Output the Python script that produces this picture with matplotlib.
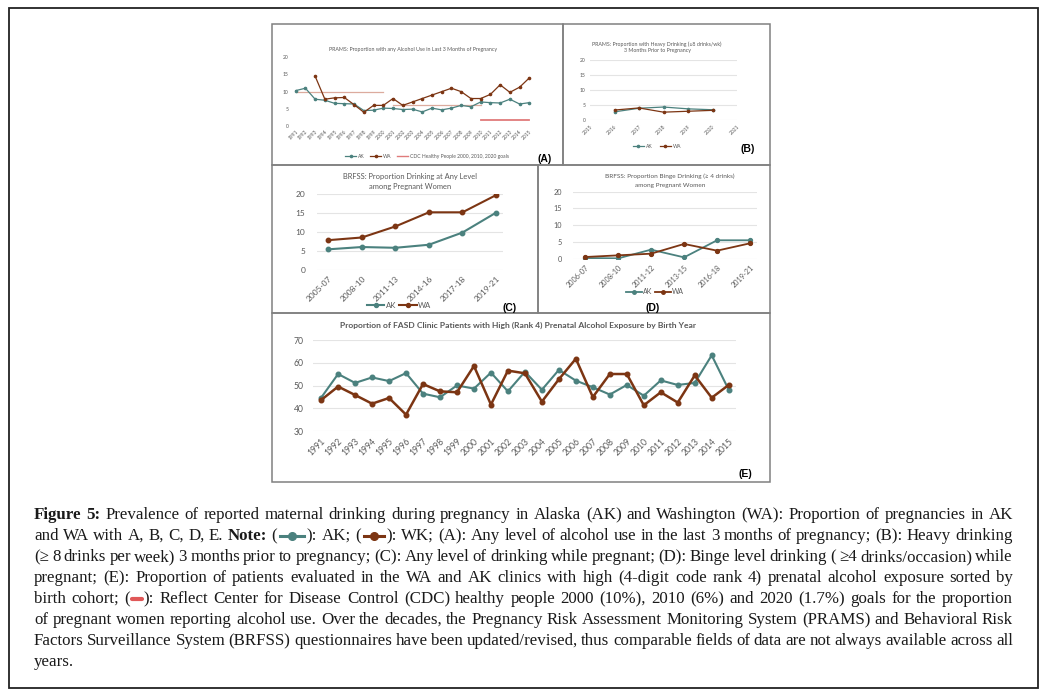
#!/usr/bin/env python3
"""Figure 5: maternal drinking during pregnancy in AK and WA, five panels plus caption."""

import re
import matplotlib
matplotlib.use('Agg')
import matplotlib.pyplot as plt
from matplotlib.lines import Line2D
from matplotlib.patches import Rectangle

W, H = 1044, 694
AK_C = '#4b817e'
WA_C = '#7c3513'
GOAL_C = '#dcab9e'
GOAL20_C = '#e07b7b'
TXT_C = '#595959'
GRID_C = '#e4e4e4'
SERIF = ['Liberation Serif', 'DejaVu Serif']

# (A) PRAMS: any alcohol use in last 3 months of pregnancy
a_years = list(range(1991, 2016))
a_ak = [10.3, 11.0, 7.8, 7.5, 6.6, 6.5, 6.4, 4.5, 4.6, 5.2, 5.1, 4.8, 4.9,
        4.1, 5.2, 4.7, 5.2, 6.0, 5.6, 7.0, 6.8, 6.7, 7.8, 6.4, 6.8]
a_wa_years = list(range(1993, 2016))
a_wa = [14.5, 7.8, 8.2, 8.3, 6.2, 4.0, 6.0, 6.0, 8.0, 6.0, 7.0, 8.0, 9.0,
        10.0, 11.0, 10.0, 8.0, 8.0, 9.2, 12.0, 9.8, 11.3, 14.0]
goal_spans = [(1991, 2000), (2001, 2010), (2010, 2015)]
goal_vals = [10, 6, 1.7]

# (B) PRAMS: heavy drinking 3 months prior to pregnancy
b_years = [2016, 2017, 2018, 2019, 2020]
b_ak = [2.8, 4.0, 4.4, 3.8, 3.5]
b_wa = [3.4, 4.1, 2.7, 3.0, 3.3]
b_ticks = list(range(2015, 2022))

# (C) BRFSS: drinking at any level among pregnant women
c_periods = ['2005-07', '2008-10', '2011-13', '2014-16', '2017-18', '2019-21']
c_ak = [5.5, 6.1, 5.9, 6.7, 9.9, 15.1]
c_wa = [7.9, 8.6, 11.5, 15.2, 15.2, 19.7]

# (D) BRFSS: binge drinking among pregnant women
d_periods = ['2006-07', '2008-10', '2011-12', '2013-15', '2016-18', '2019-21']
d_ak = [0.2, 0.1, 2.7, 0.4, 5.5, 5.5]
d_wa = [0.5, 1.0, 1.5, 4.4, 2.4, 4.6]

# (E) FASD clinic patients with rank 4 exposure, by birth year
e_years = list(range(1991, 2016))
e_ak = [44.7, 55.1, 51.2, 53.6, 52.0, 55.5, 46.5, 44.9, 50.1, 48.7, 55.7,
        47.5, 56.1, 48.2, 56.9, 52.2, 49.3, 46.1, 50.3, 45.6, 52.3, 50.3,
        51.2, 63.3, 48.2]
e_wa = [43.7, 49.6, 45.9, 42.1, 44.6, 37.3, 50.7, 47.5, 47.1, 58.6, 41.7,
        56.6, 55.4, 43.0, 52.8, 61.8, 45.0, 55.1, 55.1, 41.4, 47.1, 42.6,
        54.5, 44.7, 50.3]

caption = [
    "*Figure *5: Prevalence of reported maternal drinking during pregnancy in Alaska (AK) and Washington (WA): Proportion of pregnancies in AK",
    "and WA with A, B, C, D, E. *Note: ([AK]): AK; ([WA]): WK; (A): Any level of alcohol use in the last 3 months of pregnancy; (B): Heavy drinking",
    "(\u2265 8 drinks per week) 3 months prior to pregnancy; (C): Any level of drinking while pregnant; (D): Binge level drinking ( \u22654 drinks/occasion) while",
    "pregnant; (E): Proportion of patients evaluated in the WA and AK clinics with high (4-digit code rank 4) prenatal alcohol exposure sorted by",
    "birth cohort; ([CDC]): Reflect Center for Disease Control (CDC) healthy people 2000 (10%), 2010 (6%) and 2020 (1.7%) goals for the proportion",
    "of pregnant women reporting alcohol use. Over the decades, the Pregnancy Risk Assessment Monitoring System (PRAMS) and Behavioral Risk",
    "Factors Surveillance System (BRFSS) questionnaires have been updated/revised, thus comparable fields of data are not always available across all",
    "years.",
]

plt.rcParams['font.family'] = ['Lato', 'DejaVu Sans']
fig = plt.figure(figsize=(W / 100, H / 100), dpi=100)


def fx(x):
    return x / W


def fy(y):
    return 1 - y / H


def px_axes(l, t, r, b):
    return fig.add_axes([fx(l), fy(b), (r - l) / W, (b - t) / H])


def style(ax, fs, ypad, xpad, grid=True):
    for s in ax.spines.values():
        s.set_visible(False)
    ax.tick_params(length=0, labelsize=fs, colors=TXT_C)
    ax.tick_params(axis='y', pad=ypad)
    ax.tick_params(axis='x', pad=xpad)
    if grid:
        ax.grid(axis='y', color=GRID_C, lw=0.8)
        ax.set_axisbelow(True)
    ax.set_facecolor('none')


def legend(handles, labels, x, y, fs, **kw):
    fig.legend(handles, labels, loc='center', bbox_to_anchor=(fx(x), fy(y)),
               ncol=len(labels), frameon=False, fontsize=fs,
               labelcolor=TXT_C, borderpad=0, **kw)


def ftext(x, y, s, **kw):
    fig.text(fx(x), fy(y), s, ha='center', va='center', **kw)


# ---- (A)
axA = px_axes(290.8, 57.3, 534.2, 126)
lak, = axA.plot(a_years, a_ak, color=AK_C, lw=0.9, marker='o', ms=1.6)
lwa, = axA.plot(a_wa_years, a_wa, color=WA_C, lw=0.9, marker='o', ms=1.6)
for (xa, xb), v in zip(goal_spans, goal_vals):
    axA.plot([xa, xb], [v, v], color=GOAL20_C if v < 2 else GOAL_C,
             lw=1.3 if v < 2 else 0.9, zorder=1)
axA.set_xlim(1990.5, 2015.5)
axA.set_ylim(0, 20)
axA.set_yticks([0, 5, 10, 15, 20])
axA.set_xticks(a_years, [str(y) for y in a_years], rotation=45, ha='right',
               rotation_mode='anchor')
style(axA, 3.6, 1.5, 2, grid=False)
ftext(413, 50, 'PRAMS: Proportion with any Alcohol Use in Last 3 Months of Pregnancy',
      fontsize=3.8, color=TXT_C)
legend([lak, lwa, Line2D([], [], color=GOAL20_C, lw=1)],
       ['AK', 'WA', 'CDC Healthy People 2000, 2010, 2020 goals'], 427, 156.7, 3.6,
       handlelength=2.2, columnspacing=1.0, handletextpad=0.4)
ftext(545, 159, '(A)', fontsize=7.5, fontweight='bold', family='Liberation Sans')

# ---- (B)
axB = px_axes(590, 60, 737, 120.3)
lak, = axB.plot(b_years, b_ak, color=AK_C, lw=0.9, marker='o', ms=1.6)
lwa, = axB.plot(b_years, b_wa, color=WA_C, lw=0.9, marker='o', ms=1.6)
axB.set_xlim(2015, 2021)
axB.set_ylim(0, 20)
axB.set_yticks([0, 5, 10, 15, 20])
axB.set_xticks(b_ticks, [str(y) for y in b_ticks], rotation=45, ha='right',
               rotation_mode='anchor')
style(axB, 3.6, 3, 3)
ftext(657, 44.5, 'PRAMS: Proportion with Heavy Drinking (\u22658 drinks/wk)',
      fontsize=3.8, color=TXT_C)
ftext(657, 50.5, '3 Months Prior to Pregnancy', fontsize=3.8, color=TXT_C)
legend([lak, lwa], ['AK', 'WA'], 657, 146.7, 3.6, handlelength=2.2,
       columnspacing=1.5, handletextpad=0.4)
ftext(748, 149, '(B)', fontsize=7.5, fontweight='bold', family='Liberation Sans')

# ---- (C)
axC = px_axes(316.6, 194, 502.7, 270.3)
xc = list(range(len(c_periods)))
lak, = axC.plot(xc, c_ak, color=AK_C, lw=1.5, marker='o', ms=3.2)
lwa, = axC.plot(xc, c_wa, color=WA_C, lw=1.5, marker='o', ms=3.2)
axC.set_xlim(-0.35, 5.2)
axC.set_ylim(0, 20)
axC.set_yticks([0, 5, 10, 15, 20])
axC.set_xticks(xc, c_periods, rotation=45, ha='right', rotation_mode='anchor')
style(axC, 6.0, 8, 3.5)
ftext(410, 176, 'BRFSS: Proportion Drinking at Any Level', fontsize=5.4, color=TXT_C)
ftext(410, 187, 'among Pregnant Women', fontsize=5.4, color=TXT_C)
legend([lak, lwa], ['AK', 'WA'], 399, 305, 5.6, handlelength=2.3,
       columnspacing=0.3, handletextpad=0.2, markerscale=0.9)
ftext(510, 308, '(C)', fontsize=7.5, fontweight='bold', family='Liberation Sans')

# ---- (D)
axD = px_axes(573, 191.7, 756.7, 258.7)
xd = list(range(len(d_periods)))
lak, = axD.plot(xd, d_ak, color=AK_C, lw=1.3, marker='o', ms=2.8)
lwa, = axD.plot(xd, d_wa, color=WA_C, lw=1.3, marker='o', ms=2.8)
axD.set_xlim(-0.365, 5.2)
axD.set_ylim(0, 20)
axD.set_yticks([0, 5, 10, 15, 20])
axD.set_xticks(xd, d_periods, rotation=45, ha='right', rotation_mode='anchor')
style(axD, 5.2, 8, 3.5)
ftext(670, 176.5, 'BRFSS: Proportion Binge Drinking (\u2265 4 drinks)', fontsize=4.6,
      color=TXT_C)
ftext(670, 185.5, 'among Pregnant Women', fontsize=4.6, color=TXT_C)
legend([lak, lwa], ['AK', 'WA'], 655, 291.7, 5.0, handlelength=2.3,
       columnspacing=0.3, handletextpad=0.2, markerscale=0.9)
ftext(653, 307.5, '(D)', fontsize=7.5, fontweight='bold', family='Liberation Sans')

# ---- (E)
axE = px_axes(313.3, 340, 736, 431.3)
axE.plot(e_years, e_ak, color=AK_C, lw=1.5, marker='o', ms=3.3)
axE.plot(e_years, e_wa, color=WA_C, lw=1.8, marker='o', ms=3.3)
axE.set_xlim(1990.54, 2015.43)
axE.set_ylim(30, 70)
axE.set_yticks([30, 40, 50, 60, 70])
axE.set_xticks(e_years, [str(y) for y in e_years], rotation=45, ha='right',
               rotation_mode='anchor')
style(axE, 6.2, 7, 4)
ftext(518, 325, 'Proportion of FASD Clinic Patients with High (Rank 4) Prenatal '
      'Alcohol Exposure by Birth Year', fontsize=6.1, fontweight='bold', color=TXT_C)
ftext(745, 474, '(E)', fontsize=7.5, fontweight='bold', family='Liberation Sans')

# ---- panel frames and outer frame
frames = [(272, 24, 563, 165), (563, 24, 770, 165), (272, 165, 538, 313),
          (538, 165, 770, 313), (272, 313, 770, 482)]
for l, t, r, b in frames:
    fig.add_artist(Rectangle((fx(l), fy(b)), (r - l) / W, (b - t) / H,
                             transform=fig.transFigure, fill=False,
                             ec='#808080', lw=1.1))
fig.add_artist(Rectangle((fx(9), fy(688)), (1038 - 9) / W, (688 - 8) / H,
                         transform=fig.transFigure, fill=False, ec='#222222', lw=1.3))

# ---- caption, justified between cx0 and cx1
cx0, cx1 = 34, 1013
base0, step = 519, 21
fs = 12.2
icon_w = {'AK': 30, 'WA': 26, 'CDC': 14}
renderer = fig.canvas.get_renderer()


def measure(s, bold=False):
    t = fig.text(0, 0, s, fontsize=fs, family=SERIF,
                 fontweight='bold' if bold else 'normal')
    w = t.get_window_extent(renderer).width
    t.remove()
    return w


def split_words(line):
    words = []
    for w in line.split(' '):
        bold = w.startswith('*')
        w = w.lstrip('*')
        words.append([(p, bold) for p in re.split(r'(\[\w+\])', w) if p])
    return words


def piece_width(p, bold):
    return icon_w[p[1:-1]] if p.startswith('[') else measure(p, bold)


def draw_icon(kind, x, w, yb):
    yc = yb - 4.5
    if kind == 'CDC':
        fig.add_artist(Line2D([fx(x + 2), fx(x + w - 2)], [fy(yc), fy(yc)],
                              color='#e05858', lw=3, transform=fig.transFigure,
                              solid_capstyle='round'))
        return
    col = AK_C if kind == 'AK' else WA_C
    fig.add_artist(Line2D([fx(x + 3), fx(x + w - 3)], [fy(yc), fy(yc)],
                          color=col, lw=2.2, transform=fig.transFigure))
    fig.add_artist(Line2D([fx(x + w / 2)], [fy(yc)], marker='o', ms=5.5,
                          color=col, transform=fig.transFigure))


space = measure('a b') - measure('ab')
for i, line in enumerate(caption):
    yb = base0 + step * i
    words = split_words(line)
    widths = [sum(piece_width(p, b) for p, b in w) for w in words]
    last = i == len(caption) - 1
    gap = space if last else (cx1 - cx0 - sum(widths)) / (len(words) - 1)
    gap = max(gap, 0.5 * space)
    x = cx0
    for w, ww in zip(words, widths):
        px = x
        for p, bold in w:
            if p.startswith('['):
                draw_icon(p[1:-1], px, icon_w[p[1:-1]], yb)
            else:
                fig.text(fx(px), fy(yb), p, fontsize=fs, family=SERIF,
                         fontweight='bold' if bold else 'normal',
                         color='#1a1a1a', va='baseline')
            px += piece_width(p, bold)
        x += ww + gap

fig.savefig('out.png', dpi=100)
